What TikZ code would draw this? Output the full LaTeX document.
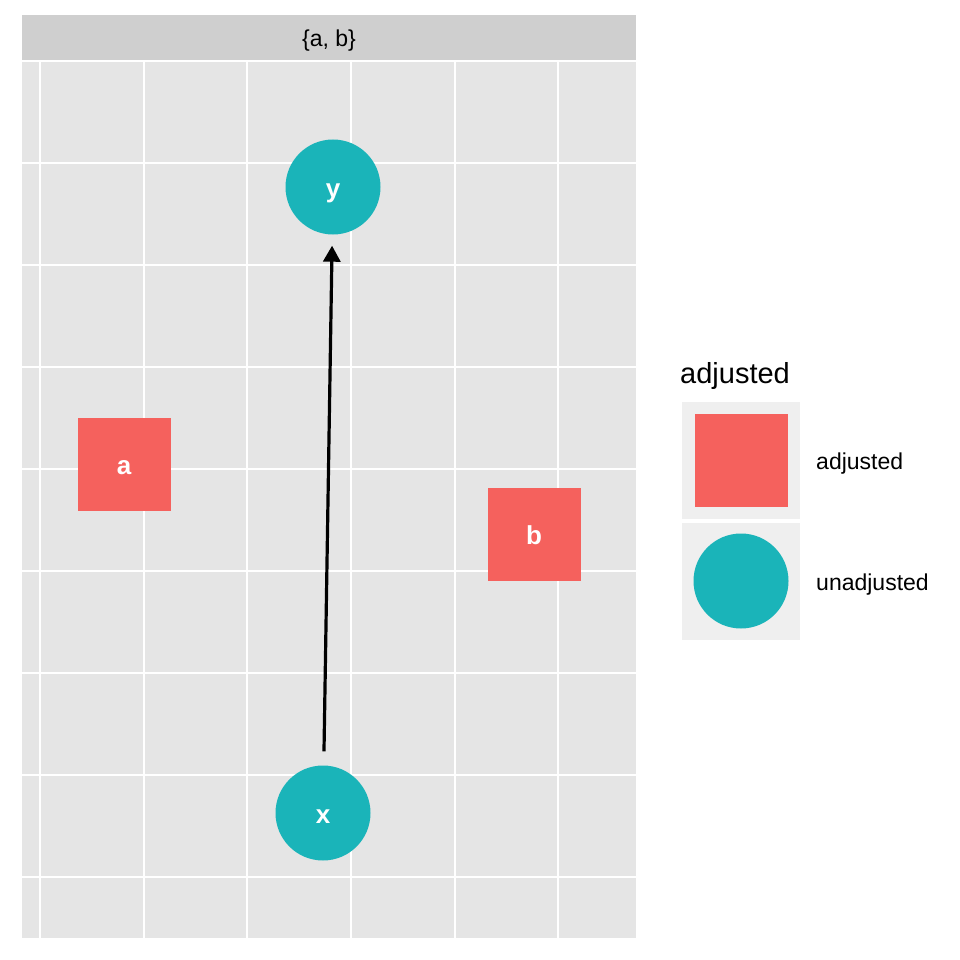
\documentclass[tikz,border=0pt]{standalone}
\usepackage{fontspec}
\setmainfont{Liberation Sans}
\usetikzlibrary{arrows.meta}
\usetikzlibrary{positioning}
\definecolor{adjred}{RGB}{245,97,93}
\definecolor{unadjteal}{RGB}{26,180,185}
\definecolor{panelgrey}{RGB}{229,229,229}
\definecolor{stripgrey}{RGB}{207,207,207}
\definecolor{keygrey}{RGB}{239,239,239}
\tikzset{
    adj/.style={
           rectangle,
           fill=adjred,
           minimum size=93pt,
           inner sep=0pt,
           text=white,
           text height=20pt, text depth=0pt,
           font=\fontsize{26}{26}\selectfont\bfseries,
           },
}
\tikzset{
    unadj/.style={
           circle,
           fill=unadjteal,
           minimum size=95pt,
           inner sep=0pt,
           text=white,
           text height=20pt, text depth=0pt,
           font=\fontsize{26}{26}\selectfont\bfseries,
           },
}
\tikzset{
    major/.style={white, line width=2.8pt},
    minor/.style={white, line width=1.4pt},
    keybox/.style={fill=keygrey, minimum width=118pt, minimum height=117pt, inner sep=0pt},
    keylabel/.style={anchor=base west, inner sep=0pt, font=\fontsize{23}{23}\selectfont},
}

\begin{document}
\begin{tikzpicture}[x=1pt,y=-1pt]
\useasboundingbox (0,0) rectangle (960,960);
% panel and strip
\fill[panelgrey] (22,61) rectangle (636,938);
\fill[stripgrey] (22,15) rectangle (636,61);
\node[anchor=base, inner sep=0pt, font=\fontsize{23}{23}\selectfont] (strip) at (329,47) {\{a, b\}};
% grid
\foreach \gx in {144,351,558} \draw[minor] (\gx,61) -- (\gx,938);
\foreach \gy in {163,367,571,775} \draw[minor] (22,\gy) -- (636,\gy);
\foreach \gx in {40,247,455} \draw[major] (\gx,61) -- (\gx,938);
\foreach \gy in {61,265,469,673,877} \draw[major] (22,\gy) -- (636,\gy);
% nodes
\node[unadj](y) at (333,187){y};
\node[unadj](x) at (323,813){x};
\node[adj](a) at (124,464){a};
\node[adj](b) at (534,534){b};
\draw[line width=3.2pt, -{Triangle[length=16pt,width=17pt]}, shorten <=14pt, shorten >=11pt] (x) -- (y);
% legend
\node[anchor=base west, inner sep=0pt, font=\fontsize{29}{29}\selectfont] (ltitle) at (680,383) {adjusted};
\node[keybox](k1) at (741,460){};
\node[keybox](k2) at (741,581){};
\node[adj] at (k1) {};
\node[unadj] at (k2) {};
\node[keylabel] (l1) at (816,469) {adjusted};
\node[keylabel] (l2) at (816,590) {unadjusted};
\end{tikzpicture}
\end{document}
